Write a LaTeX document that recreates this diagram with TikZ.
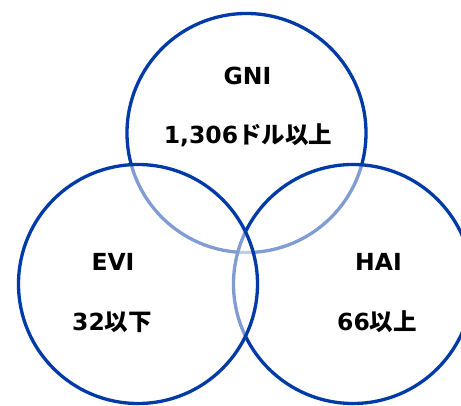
\documentclass[tikz,border=0pt]{standalone}
\usepackage{fontspec}
\setmainfont{DejaVu Sans}
\newfontfamily\jpfont{Noto Sans CJK JP}
\definecolor{ringblue}{RGB}{0,58,166}
\begin{document}
\begin{tikzpicture}[x=1pt,y=-1pt,
  ring/.style={draw=ringblue,line width=3.3pt,fill=white,fill opacity=0.5,draw opacity=1},
  label/.style={font=\fontsize{23.5}{26}\selectfont\bfseries,text=black,inner sep=0pt,anchor=center}]
  \useasboundingbox (0,0) rectangle (461,406);
  \begin{scope}
    \clip (0,0) rectangle (461,406);
    % rings: later rings wash out the outlines they cover
    \path[ring] (246.5,133) circle[radius=119.5];
    \path[ring] (353,284) circle[radius=119.5];
    \path[ring] (138,284) circle[radius=119.5];
  \end{scope}
  \node[label] (gni) at (247.5,76) {GNI};
  \node[label] (gniv) at (248,135) {1,306{\jpfont\bfseries ドル以上}};
  \node[label] (evi) at (113,262) {EVI};
  \node[label] (eviv) at (112,322) {32{\jpfont\bfseries 以下}};
  \node[label] (hai) at (378.5,262) {HAI};
  \node[label] (haiv) at (377,322) {66{\jpfont\bfseries 以上}};
\end{tikzpicture}
\end{document}
